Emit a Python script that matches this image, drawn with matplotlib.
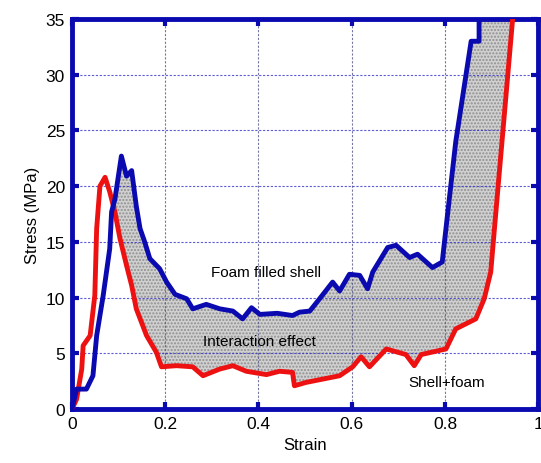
import numpy as np
import matplotlib
matplotlib.use('Agg')
import matplotlib.pyplot as plt

plt.rcParams['font.family'] = ['Liberation Sans', 'DejaVu Sans']

# foam filled shell (blue)
blue_strain = [0.0, 0.01, 0.031, 0.045, 0.053, 0.067, 0.081, 0.085, 0.092, 0.106, 0.117,
               0.128, 0.138, 0.146, 0.156, 0.167, 0.188, 0.203, 0.221, 0.246, 0.259,
               0.288, 0.317, 0.345, 0.366, 0.385, 0.403, 0.44, 0.473, 0.488, 0.51, 0.531,
               0.559, 0.574, 0.595, 0.617, 0.634, 0.645, 0.677, 0.695, 0.724, 0.741,
               0.773, 0.794, 0.802, 0.823, 0.856, 0.873, 0.873]
blue_stress = [0.0, 1.8, 1.8, 3.0, 6.6, 10.2, 14.4, 17.7, 18.8, 22.7, 20.9,
               21.4, 18.2, 16.2, 15.0, 13.5, 12.6, 11.4, 10.3, 9.9, 9.0,
               9.4, 9.0, 8.8, 8.1, 9.1, 8.5, 8.6, 8.4, 8.7, 8.8, 9.9,
               11.4, 10.6, 12.1, 12.0, 10.8, 12.3, 14.5, 14.7, 13.6, 13.9,
               12.7, 13.2, 16.2, 24.0, 33.0, 33.0, 36.0]

# shell + foam (red)
red_strain = [0.0, 0.01, 0.021, 0.024, 0.039, 0.049, 0.053, 0.06, 0.071, 0.081, 0.092,
              0.103, 0.117, 0.128, 0.138, 0.16, 0.181, 0.192, 0.224, 0.259, 0.281,
              0.317, 0.345, 0.374, 0.417, 0.445, 0.473, 0.477, 0.502, 0.574, 0.602,
              0.62, 0.638, 0.674, 0.716, 0.734, 0.749, 0.802, 0.823, 0.866, 0.884,
              0.898, 0.906, 0.946]
red_stress = [0.0, 0.9, 3.6, 5.7, 6.6, 10.2, 16.2, 20.0, 20.8, 19.5, 17.7,
              15.3, 12.9, 11.1, 9.0, 6.6, 5.1, 3.8, 3.9, 3.8, 3.0,
              3.6, 3.9, 3.4, 3.1, 3.4, 3.3, 2.1, 2.4, 3.0, 3.8,
              4.7, 3.8, 5.4, 4.9, 3.9, 4.9, 5.4, 7.2, 8.1, 9.9,
              12.3, 16.2, 35.5]

x_ticks = [0, 0.2, 0.4, 0.6, 0.8, 1]
x_labels = ['0', '0.2', '0.4', '0.6', '0.8', '1']
y_ticks = [0, 5, 10, 15, 20, 25, 30, 35]

fig = plt.figure(figsize=(5.41, 4.64), dpi=100)
ax = fig.add_axes([0.133, 0.116, 0.862, 0.841])

# interaction effect: area between the two curves
bx = np.array(blue_strain[7:])
by = np.array(blue_stress[7:])
rx = np.array(red_strain[9:])[::-1]
ry = np.array(red_stress[9:])[::-1]
ax.fill(np.concatenate([bx, rx]), np.concatenate([by, ry]),
        facecolor='#d0d0d0', edgecolor='#909090', hatch='.....', linewidth=0, zorder=1)

ax.plot(red_strain, red_stress, color='#ee1111', lw=3.5, zorder=3)
ax.plot(blue_strain, blue_stress, color='#0a0ab0', lw=3.5, zorder=4)

ax.text(0.416, 12.3, 'Foam filled shell', fontsize=11, ha='center', va='center', zorder=5)
ax.text(0.403, 6.1, 'Interaction effect', fontsize=11, ha='center', va='center', zorder=5)
ax.text(0.803, 2.4, 'Shell+foam', fontsize=11, ha='center', va='center', zorder=5)

ax.set_xlim(0, 1)
ax.set_ylim(0, 35)
ax.set_xticks(x_ticks)
ax.set_xticklabels(x_labels)
ax.set_yticks(y_ticks)
ax.tick_params(direction='in', color='#0a0ab0', width=3, length=5, labelsize=12.5,
               top=True, right=True, pad=5)
ax.grid(True, axis='y', color='#3333cc', linestyle=(0, (2, 1.5)), linewidth=0.8, alpha=0.8)
ax.grid(True, axis='x', color='#555588', linestyle=(0, (2, 1.5)), linewidth=0.8, alpha=0.8)
for s in ax.spines.values():
    s.set_color('#0a0ab0')
    s.set_linewidth(3.5)

ax.set_xlabel('Strain', fontsize=12)
ax.set_ylabel('Stress (MPa)', fontsize=12, labelpad=4)

fig.savefig('out.png', dpi=100)
